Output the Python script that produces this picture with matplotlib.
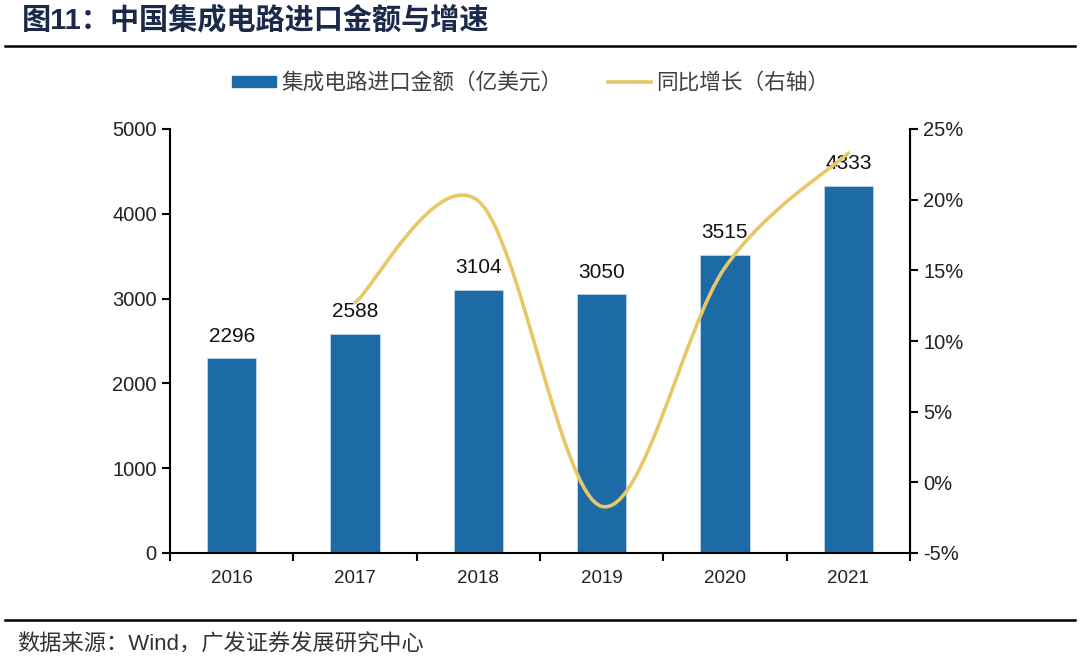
import matplotlib
matplotlib.use("Agg")
import matplotlib.pyplot as plt
from matplotlib.path import Path
from matplotlib.patches import PathPatch, Patch
from matplotlib.lines import Line2D
import numpy as np

plt.rcParams['font.family'] = ['Liberation Sans', 'Noto Sans CJK SC', 'DejaVu Sans']

years = ["2016", "2017", "2018", "2019", "2020", "2021"]
import_value = [2296, 2588, 3104, 3050, 3515, 4333]
growth_years = ["2017", "2018", "2019", "2020", "2021"]
growth_pct = [12.7, 19.9, -1.7, 15.2, 23.3]

bar_color = "#1C6BA6"
line_color = "#E8C766"
title = "图11：中国集成电路进口金额与增速"
legend_bar = "集成电路进口金额（亿美元）"
legend_line = "同比增长（右轴）"
source = "数据来源：Wind，广发证券发展研究中心"
cjk = ['Noto Sans CJK SC', 'DejaVu Sans']

fig = plt.figure(figsize=(10.8, 6.7), dpi=100)
ax = fig.add_axes([170/1080, 1-553/670, 740/1080, 424/670])
ax2 = ax.twinx()

x = np.arange(len(years))
ax.bar(x, import_value, width=0.4, color=bar_color, edgecolor="#BFD6EA", linewidth=0.6, zorder=2)
for xi, v in zip(x, import_value):
    ax.annotate(f"{v}", (xi, v), xytext=(0, 9), textcoords="offset points",
                ha="center", va="bottom", fontsize=15, color="#111111")

ax.set_xlim(-0.5, len(years) - 0.5)
ax.set_ylim(0, 5000)
ax.set_yticks(range(0, 5001, 1000))
ax.set_xticks(x)
ax.set_xticklabels(years, fontsize=13.5, color="#222222")
ax.tick_params(axis='x', length=0, pad=12)
ax.set_xticks(np.arange(-0.5, len(years), 1), minor=True)
ax.tick_params(axis='x', which='minor', length=6, width=1.5, direction='out')
ax.tick_params(axis='y', labelsize=14.5, length=6, width=1.5, direction='out', labelcolor="#222222")
ax.spines['top'].set_visible(False)
ax2.spines['top'].set_visible(False)
for s in ['left', 'bottom']:
    ax.spines[s].set_linewidth(1.5)
ax2.spines['right'].set_linewidth(1.5)
ax2.spines['left'].set_visible(False)
ax2.spines['bottom'].set_visible(False)

ax2.set_ylim(-5, 25)
ax2.set_yticks(range(-5, 26, 5))
ax2.set_yticklabels([f"{t}%" for t in range(-5, 26, 5)])
ax2.tick_params(axis='y', labelsize=14.5, length=6, width=1.5, direction='out', labelcolor="#222222")

# smooth line (Catmull-Rom style cubic Bezier through the data points)
gx = np.array([years.index(y) for y in growth_years], dtype=float)
gy = np.array(growth_pct, dtype=float)
pts = np.column_stack([gx, gy])
ext = np.vstack([pts[0], pts, pts[-1]])
verts = [tuple(pts[0])]
codes = [Path.MOVETO]
for i in range(len(pts) - 1):
    p0, p1, p2, p3 = ext[i], ext[i + 1], ext[i + 2], ext[i + 3]
    c1 = p1 + (p2 - p0) / 6.0
    c2 = p2 - (p3 - p1) / 6.0
    verts += [tuple(c1), tuple(c2), tuple(p2)]
    codes += [Path.CURVE4] * 3
ax2.add_patch(PathPatch(Path(verts, codes), facecolor='none', edgecolor=line_color,
                        linewidth=2.6, zorder=3, capstyle='round'))

# title and rules
fig.text(22/1080, 1-20/670, title, fontsize=21, fontweight='bold', color="#1B2A4A",
         va='center', ha='left', family=['Liberation Sans', 'Noto Sans CJK SC'])
fig.add_artist(Line2D([5/1080, 1075/1080], [1-46/670, 1-46/670], color='black', linewidth=1.8))
fig.add_artist(Line2D([5/1080, 1075/1080], [1-620/670, 1-620/670], color='black', linewidth=1.8))
fig.text(17/1080, 1-645/670, source, fontsize=16, color="#333333", va='center', ha='left',
         family=['Liberation Sans', 'Noto Sans CJK SC'])

handles = [Patch(facecolor=bar_color, edgecolor=bar_color),
           Line2D([0], [0], color=line_color, linewidth=2.6)]
fig.legend(handles, [legend_bar, legend_line], loc='center', bbox_to_anchor=(531/1080, 1-83/670),
           ncol=2, frameon=False, prop={'family': cjk, 'size': 15.6}, labelcolor="#404040",
           handlelength=2.0, handleheight=0.4, columnspacing=2.1, handletextpad=0.25)

fig.savefig("out.png", dpi=100)
